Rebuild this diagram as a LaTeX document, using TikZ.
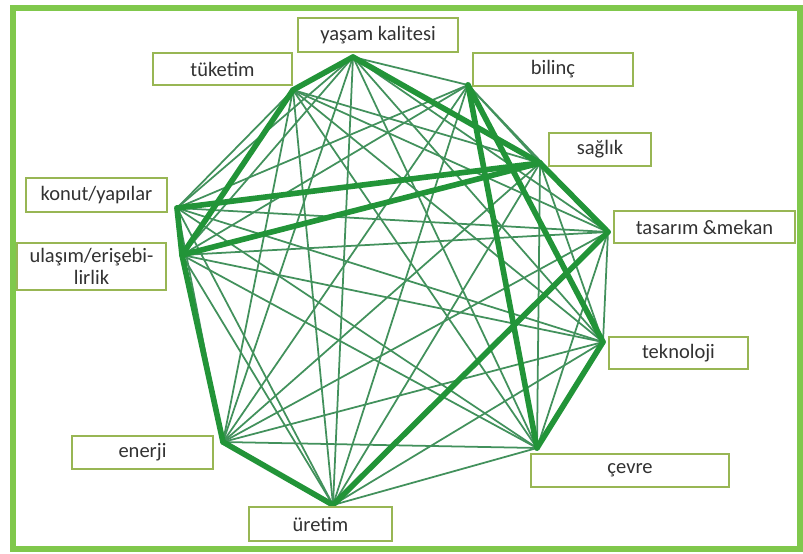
\documentclass[tikz,border=0pt]{standalone}
\usepackage{fontspec}
\setmainfont{Carlito}
\definecolor{framegreen}{RGB}{128,200,76}
\definecolor{boxgreen}{RGB}{152,182,84}
\definecolor{linkgreen}{RGB}{34,148,56}
\definecolor{weakgreen}{RGB}{66,145,92}
\definecolor{labelgray}{RGB}{50,50,50}

\begin{document}
\begin{tikzpicture}[
        x=0.03cm, y=-0.03cm,
        box/.style={draw=boxgreen, line width=2pt, fill=white, inner sep=0pt,
            font=\fontsize{17.5}{18.5}\selectfont, text=labelgray, align=center},
        weak/.style={draw=weakgreen, line width=1.5pt},
        strong/.style={draw=linkgreen, line width=4.8pt, line cap=round}
    ]

    % page size and outer frame
    \useasboundingbox (0,0) rectangle (803,553);
    \draw[framegreen, line width=5pt] (13,8) rectangle (800,549);

    % meeting points of the links
    \coordinate (vyas) at (353,57);
    \coordinate (vtuk) at (293,90);
    \coordinate (vbil) at (468,85);
    \coordinate (vsag) at (540,163);
    \coordinate (vtas) at (608,232);
    \coordinate (vkon) at (177,208);
    \coordinate (vula) at (182,255);
    \coordinate (vtek) at (603,342);
    \coordinate (vene) at (223,442);
    \coordinate (vcev) at (537,448);
    \coordinate (vure) at (333,505);

    % thin links
    \foreach \a/\b in {
        vyas/vbil, vyas/vtas, vyas/vkon, vyas/vula, vyas/vtek, vyas/vene, vyas/vcev, vyas/vure,
        vtuk/vsag, vtuk/vtas, vtuk/vkon, vtuk/vtek, vtuk/vene, vtuk/vcev, vtuk/vure,
        vbil/vsag, vbil/vtas, vbil/vkon, vbil/vula, vbil/vene, vbil/vure,
        vsag/vtek, vsag/vene, vsag/vcev, vsag/vure,
        vtas/vkon, vtas/vula, vtas/vtek, vtas/vene, vtas/vcev,
        vkon/vtek, vkon/vene, vkon/vcev, vkon/vure,
        vula/vtek, vula/vcev, vula/vure,
        vtek/vene, vtek/vure,
        vene/vcev, vcev/vure}
    {
        \draw[weak] (\a) -- (\b);
    }

    % strong links
    \foreach \a/\b in {
        vyas/vtuk, vyas/vsag, vtuk/vula, vkon/vula, vkon/vsag, vula/vsag,
        vula/vene, vene/vure, vure/vtas, vsag/vtas, vbil/vtek, vbil/vcev, vtek/vcev}
    {
        \draw[strong] (\a) -- (\b);
    }

    % labels
    \node[box, minimum width=4.8cm, minimum height=1.02cm] (yasam) at (378,35) {yaşam kalitesi};
    \node[box, minimum width=4.17cm, minimum height=0.96cm] (tuketim) at (222.5,69) {tüketim};
    \node[box, minimum width=4.8cm, minimum height=0.99cm] (bilinc) at (553,69.5) {bilinç};
    \node[box, minimum width=3.06cm, minimum height=0.99cm] (saglik) at (600,149.5) {sağlık};
    \node[box, minimum width=5.43cm, minimum height=0.96cm] (tasarim) at (704.5,227) {tasarım \&mekan};
    \node[box, minimum width=4.23cm, minimum height=1.02cm] (konut) at (96.5,195) {konut/yapılar};
    \node[box, minimum width=4.47cm, minimum height=1.41cm] (ulasim) at (91.5,266.5) {ulaşım/erişebi-\\lirlik};
    \node[box, minimum width=4.17cm, minimum height=0.96cm] (teknoloji) at (678.5,353) {teknoloji};
    \node[box, minimum width=4.23cm, minimum height=0.99cm] (enerji) at (142.5,452.5) {enerji};
    \node[box, minimum width=5.94cm, minimum height=0.99cm] (cevre) at (630,470.5) {çevre};
    \node[box, minimum width=4.29cm, minimum height=1.02cm] (uretim) at (320.5,524) {üretim};

\end{tikzpicture}
\end{document}
